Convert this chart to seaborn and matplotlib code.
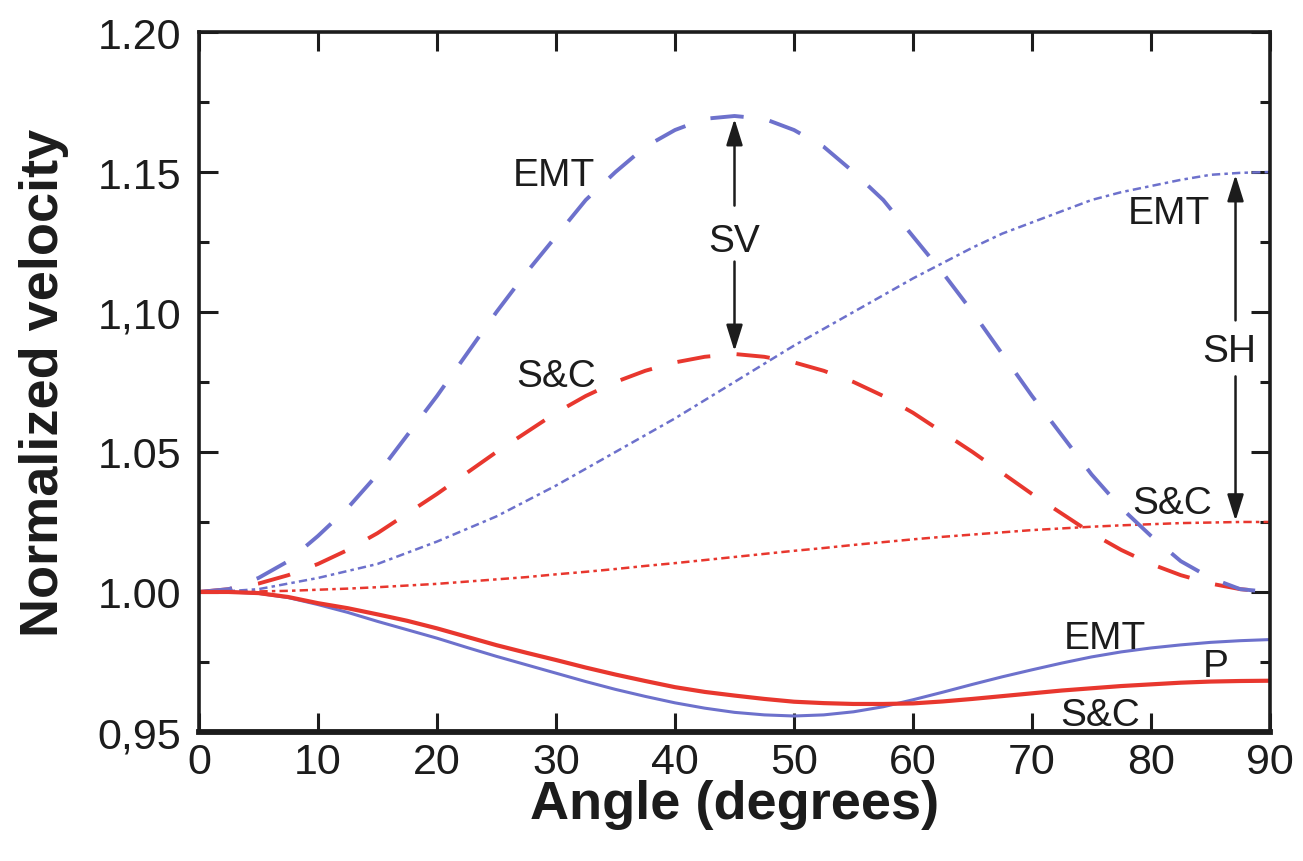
import matplotlib
matplotlib.use("Agg")
import matplotlib.pyplot as plt
from matplotlib.ticker import FixedLocator, MultipleLocator
import seaborn as sns

# Propagation angle (degrees), 2.5 degree steps
angle = [0, 2.5, 5, 7.5, 10, 12.5, 15, 17.5, 20, 22.5, 25, 27.5, 30, 32.5, 35, 37.5,
         40, 42.5, 45, 47.5, 50, 52.5, 55, 57.5, 60, 62.5, 65, 67.5, 70, 72.5, 75,
         77.5, 80, 82.5, 85, 87.5, 90]

# SV wave, normalized velocity
sv_emt = [1.000, 1.001, 1.005, 1.011, 1.020, 1.030, 1.042, 1.056, 1.070, 1.085,
          1.100, 1.114, 1.127, 1.140, 1.150, 1.159, 1.165, 1.169, 1.170,
          1.169, 1.165, 1.159, 1.150, 1.140, 1.127, 1.114, 1.100, 1.085, 1.070,
          1.056, 1.042, 1.030, 1.020, 1.011, 1.005, 1.001, 1.000]
sv_sc = [1.000, 1.001, 1.003, 1.006, 1.010, 1.015, 1.021, 1.028, 1.035, 1.0425,
         1.050, 1.057, 1.064, 1.070, 1.075, 1.079, 1.082, 1.084, 1.085,
         1.084, 1.082, 1.079, 1.075, 1.070, 1.064, 1.057, 1.050, 1.0425, 1.035,
         1.028, 1.021, 1.015, 1.010, 1.006, 1.003, 1.001, 1.000]

# SH wave, normalized velocity
sh_emt = [1.000, 1.0003, 1.001, 1.003, 1.005, 1.0075, 1.010, 1.014, 1.018, 1.0225,
          1.027, 1.0325, 1.038, 1.044, 1.050, 1.056, 1.062, 1.0685, 1.075, 1.0815,
          1.088, 1.094, 1.100, 1.106, 1.112, 1.1175, 1.123, 1.128, 1.132, 1.136,
          1.140, 1.1428, 1.145, 1.1472, 1.149, 1.1497, 1.150]
sh_sc = [1.000, 1.0000, 1.0002, 1.0004, 1.0008, 1.0012, 1.0017, 1.0023, 1.0029,
         1.0037, 1.0045, 1.0053, 1.0063, 1.0072, 1.0082, 1.0093, 1.0103, 1.0114,
         1.0125, 1.0136, 1.0147, 1.0157, 1.0168, 1.0178, 1.0188, 1.0197, 1.0205,
         1.0213, 1.0221, 1.0227, 1.0233, 1.0238, 1.0242, 1.0246, 1.0248, 1.0250,
         1.0250]

# P wave, normalized velocity
p_emt = [1.000, 1.000, 0.9995, 0.998, 0.9955, 0.9927, 0.9895, 0.9865, 0.9835,
         0.9802, 0.977, 0.974, 0.971, 0.968, 0.9652, 0.9627, 0.9604, 0.9585,
         0.957, 0.9561, 0.9557, 0.9561, 0.9572, 0.959, 0.9615, 0.9642, 0.967,
         0.9697, 0.9722, 0.9746, 0.9768, 0.9786, 0.980, 0.9811, 0.982, 0.9826,
         0.983]
p_sc = [1.000, 1.000, 0.9996, 0.9982, 0.996, 0.9942, 0.992, 0.9897, 0.987, 0.984,
        0.981, 0.9783, 0.9757, 0.973, 0.9705, 0.9682, 0.966, 0.9643, 0.963, 0.9618,
        0.9608, 0.9603, 0.9600, 0.9600, 0.9602, 0.9609, 0.9618, 0.9628, 0.9638,
        0.9648, 0.9656, 0.9664, 0.967, 0.9676, 0.968, 0.9682, 0.9683]

x_ticks = [0, 10, 20, 30, 40, 50, 60, 70, 80, 90]
y_ticks = [0.95, 1.00, 1.05, 1.10, 1.15, 1.20]
y_tick_labels = ["0,95", "1.00", "1.05", "1,10", "1.15", "1.20"]

BLUE = "#6d71cc"
RED = "#e8372e"
INK = "#1c1c1c"

sns.set_theme(style="ticks")
plt.rcParams["font.family"] = ["Liberation Sans", "DejaVu Sans"]
plt.rcParams["lines.scale_dashes"] = False

fig = plt.figure(figsize=(13.03, 8.62), dpi=100)
fig.patch.set_facecolor("white")
ax = fig.add_axes([0.1527, 0.1497, 0.8220, 0.8120])
ax.set_facecolor("white")

long_dash = (0, (24, 19))
short_dash = (0, (6, 3, 2.5, 3))

curves = [
    (sh_sc, RED, short_dash, 1.8),
    (sh_emt, BLUE, short_dash, 1.8),
    (sv_sc, RED, long_dash, 2.8),
    (sv_emt, BLUE, long_dash, 2.8),
    (p_emt, BLUE, "-", 2.2),
    (p_sc, RED, "-", 3.0),
]
for vals, color, ls, lw in curves:
    sns.lineplot(x=angle, y=vals, ax=ax, color=color, linestyle=ls,
                 linewidth=lw, estimator=None, sort=False,
                 solid_capstyle="round", solid_joinstyle="round")

ax.set_xlim(0, 90)
ax.set_ylim(0.95, 1.20)
ax.xaxis.set_major_locator(FixedLocator(x_ticks))
ax.set_xticklabels([str(t) for t in x_ticks])
ax.yaxis.set_major_locator(FixedLocator(y_ticks))
ax.set_yticklabels(y_tick_labels)
ax.yaxis.set_minor_locator(MultipleLocator(0.025))

ax.tick_params(which="both", direction="in", top=True, right=True,
               color=INK, labelcolor=INK)
ax.tick_params(which="major", length=14, width=2.2, labelsize=31)
ax.tick_params(axis="x", which="major", pad=7)
ax.tick_params(axis="y", which="major", pad=13)
ax.tick_params(which="minor", length=7, width=2.2)
ax.tick_params(axis="x", which="minor", bottom=False, top=False)

for name, spine in ax.spines.items():
    spine.set_color(INK)
    spine.set_linewidth(4.2 if name == "bottom" else 2.6)

ax.set_xlabel("Angle (degrees)", fontsize=39, fontweight="bold", color=INK)
ax.set_ylabel("Normalized velocity", fontsize=39, fontweight="bold", color=INK)
ax.xaxis.set_label_coords(0.5, -0.067)
ax.yaxis.set_label_coords(-0.121, 0.5)

# Curve labels
label_kw = dict(fontsize=28, color=INK, ha="center", va="baseline")
ax.text(29.8, 1.1455, "EMT", **label_kw)
ax.text(30.0, 1.0735, "S&C", **label_kw)
ax.text(45.0, 1.1218, "SV", **label_kw)
ax.text(81.5, 1.1318, "EMT", **label_kw)
ax.text(86.6, 1.0825, "SH", **label_kw)
ax.text(81.8, 1.0282, "S&C", **label_kw)
ax.text(76.1, 0.9800, "EMT", **label_kw)
ax.text(85.4, 0.9700, "P", **label_kw)
ax.text(75.7, 0.9525, "S&C", **label_kw)

# Arrows spanning the EMT / S&C split of the SV and SH curves
arrow_kw = dict(arrowstyle="-|>,head_length=0.8,head_width=0.25", color=INK,
                lw=1.8, shrinkA=0, shrinkB=0, mutation_scale=20)
i45 = angle.index(45)
ax.annotate("", xy=(45, sv_emt[i45] - 0.001), xytext=(45, 1.138), arrowprops=arrow_kw)
ax.annotate("", xy=(45, sv_sc[i45] + 0.001), xytext=(45, 1.118), arrowprops=arrow_kw)
x_sh = 87.1
ax.annotate("", xy=(x_sh, sh_emt[-1] - 0.001), xytext=(x_sh, 1.097), arrowprops=arrow_kw)
ax.annotate("", xy=(x_sh, sh_sc[-1] + 0.0004), xytext=(x_sh, 1.077), arrowprops=arrow_kw)

fig.savefig("out.png", dpi=100, facecolor="white")
